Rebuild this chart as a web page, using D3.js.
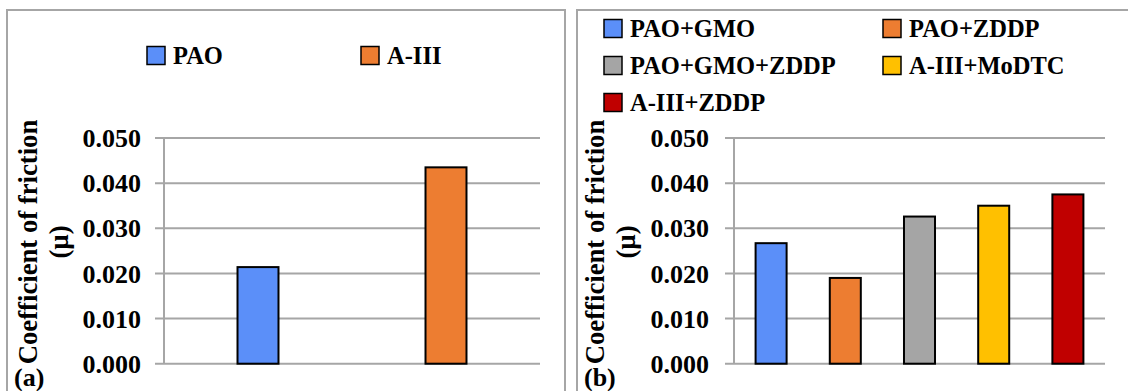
<!DOCTYPE html>
<html>
<head>
<meta charset="utf-8">
<script src="https://cdn.jsdelivr.net/npm/d3@7"></script>
<style>
  html, body { margin: 0; padding: 0; background: #fff; }
  svg { display: block; }
</style>
</head>
<body>
<svg id="chart" width="1128" height="391" font-family="'Liberation Serif', 'DejaVu Serif', serif" font-weight="bold"></svg>
<script>
// Friction coefficient of base oils (a) and oil + additive blends (b)
const baseOils = ["PAO", "A-III"];
const baseOilCof = [0.0214, 0.0435];
const baseOilColors = ["#5b8ff9", "#ed7d31"];

const blends = ["PAO+GMO", "PAO+ZDDP", "PAO+GMO+ZDDP", "A-III+MoDTC", "A-III+ZDDP"];
const blendCof = [0.0267, 0.0190, 0.0326, 0.0350, 0.0375];
const blendColors = ["#5b8ff9", "#ed7d31", "#a5a5a5", "#ffc000", "#c00000"];

const yTicks = [0.000, 0.010, 0.020, 0.030, 0.040, 0.050];
const yTitle = ["Coefficient of friction", "(µ)"];

const svg = d3.select("#chart");
const gridColor = "#a6a6a6";

function drawPanel(opt) {
  const g = svg.append("g");

  // panel frame (open at the bottom edge of the page)
  g.append("rect")
    .attr("x", opt.frame[0]).attr("y", 10)
    .attr("width", opt.frame[1] - opt.frame[0]).attr("height", 400)
    .attr("fill", "none").attr("stroke", gridColor).attr("stroke-width", 2);

  const y = d3.scaleLinear().domain([0, 0.05]).range([363.7, 138]);
  const x = d3.scaleBand().domain(opt.cats).range([opt.plot[0], opt.plot[1]]).padding(0);

  // horizontal gridlines with outer tick marks
  g.selectAll("line.grid").data(yTicks).join("line")
    .attr("class", "grid")
    .attr("x1", opt.plot[0] - 9).attr("x2", opt.plot[1])
    .attr("y1", d => y(d)).attr("y2", d => y(d))
    .attr("stroke", gridColor).attr("stroke-width", 2);

  // vertical axis line
  g.append("line")
    .attr("x1", opt.plot[0]).attr("x2", opt.plot[0])
    .attr("y1", y(0.05)).attr("y2", y(0))
    .attr("stroke", gridColor).attr("stroke-width", 2);

  // tick labels
  g.selectAll("text.tick").data(yTicks).join("text")
    .attr("class", "tick")
    .attr("x", opt.tickX).attr("y", d => y(d))
    .attr("dy", "0.35em")
    .attr("text-anchor", "end")
    .attr("font-size", 26)
    .text(d3.format(".3f"));

  // bars
  const bw = x.bandwidth() * opt.barFrac;
  g.selectAll("rect.bar").data(opt.values).join("rect")
    .attr("class", "bar")
    .attr("x", (d, i) => x(opt.cats[i]) + (x.bandwidth() - bw) / 2)
    .attr("width", bw)
    .attr("y", d => y(d))
    .attr("height", d => y(0) - y(d))
    .attr("fill", (d, i) => opt.colors[i])
    .attr("stroke", "#000").attr("stroke-width", 2);

  // axis title, two lines rotated
  const t = g.append("text")
    .attr("transform", `translate(${opt.titleX},242) rotate(-90)`)
    .attr("text-anchor", "middle")
    .attr("font-size", 26.7);
  t.append("tspan").attr("x", 0).attr("y", 0).text(yTitle[0]);
  t.append("tspan").attr("x", 0).attr("y", 31).text(yTitle[1]);

  // panel letter
  g.append("text")
    .attr("x", opt.letterX).attr("y", 386)
    .attr("font-size", 26)
    .text(opt.letter);

  // legend
  const lg = g.selectAll("g.leg").data(opt.cats).join("g")
    .attr("class", "leg")
    .attr("transform", (d, i) => `translate(${opt.legendPos[i][0]},${opt.legendPos[i][1]})`);
  lg.append("rect")
    .attr("x", 0).attr("y", -17.5)
    .attr("width", 18).attr("height", 18)
    .attr("fill", (d, i) => opt.colors[i])
    .attr("stroke", "#000").attr("stroke-width", 1.5);
  lg.append("text")
    .attr("x", 26).attr("y", 0)
    .attr("font-size", 24.5)
    .text(d => d);
}

drawPanel({
  frame: [7, 565],
  plot: [164, 540],
  tickX: 141,
  titleX: 37,
  letterX: 14,
  letter: "(a)",
  cats: baseOils,
  values: baseOilCof,
  colors: baseOilColors,
  barFrac: 0.218,
  legendPos: [[147, 64], [361, 64]]
});

drawPanel({
  frame: [577, 1140],
  plot: [734, 1105],
  tickX: 709,
  titleX: 604,
  letterX: 584,
  letter: "(b)",
  cats: blends,
  values: blendCof,
  colors: blendColors,
  barFrac: 0.418,
  legendPos: [[604, 37], [883, 37], [604, 74], [883, 74], [604, 111]]
});
</script>
</body>
</html>
